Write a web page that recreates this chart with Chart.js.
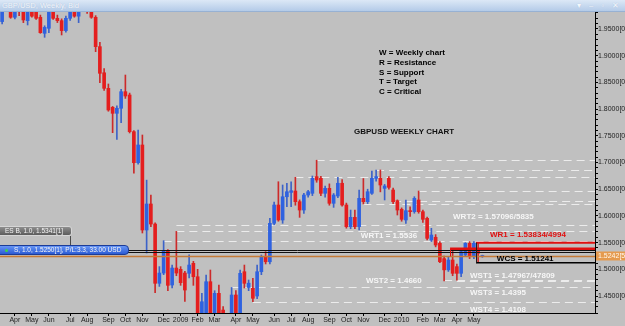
<!DOCTYPE html>
<html>
<head>
<meta charset="utf-8">
<script src="https://cdn.jsdelivr.net/npm/chart.js@4.4.1/dist/chart.umd.min.js"></script>
<style>
html, body { margin: 0; padding: 0; background: #c0c0c0; }
#wrap { position: relative; width: 625px; height: 326px; overflow: hidden; }
canvas { position: absolute; left: 0; top: 0; }
#titlebar { position: absolute; left: 0; top: 0; width: 625px; height: 12px; box-sizing: border-box;
  background: linear-gradient(#dce8f6, #b4cbe8); border-bottom: 1px solid #97b1d3;
  font: 7.5px "Liberation Sans", Arial, sans-serif; color: #f4f7fb; line-height: 11px; padding-left: 2px;
  text-shadow: 0 0 1px #9fb6d6; }
#titlebar .btns { position: absolute; right: 3px; top: 0; letter-spacing: 3px; }
.tradebox { position: absolute; left: -2px; height: 10px; box-sizing: border-box; color: #f4f4f4;
  font: 6.5px "Liberation Sans", Arial, sans-serif; line-height: 8px; white-space: nowrap; }
#esb { top: 226px; width: 74px; padding-left: 6px; background: linear-gradient(#8e8e8e, #5c5c5c);
  border: 1px solid #d6d6d6; border-radius: 0 3px 3px 0; }
#sell { top: 245px; width: 131px; padding-left: 15px; background: linear-gradient(#6695f6, #2b5bd4);
  border: 1px solid #1c3c98; border-radius: 0 4px 4px 0; }
#sell .dot { position: absolute; left: 6px; top: 2.5px; width: 3px; height: 3px; border-radius: 50%; background: #3fd24a; }
#link { position: absolute; left: 70px; top: 236px; width: 1px; height: 9px; background: #4a4a4a; }
</style>
</head>
<body>
<div id="wrap">
  <canvas id="chart" width="625" height="326"></canvas>
  <div id="titlebar">GBP/USD, Weekly, Bid<span class="btns">▾ ‒ ▫ ✕</span></div>
  <div id="link"></div>
  <div class="tradebox" id="esb">ES B, 1.0, 1.5341[1]</div>
  <div class="tradebox" id="sell"><span class="dot"></span>S, 1.0, 1.5250[1], P/L:3.3, 33.00 USD</div>
</div>
<script>
// weekly GBPUSD candles (values above 1.98 / below 1.42 are off-chart)
const opens = [1.9638, 1.9950, 1.9950, 1.9719, 1.9980, 1.9850, 1.9656, 1.9900, 1.9950, 1.9719,
  1.9419, 1.9513, 1.9900, 1.9700, 1.9656, 1.9469, 1.9700, 1.9950, 1.9740, 1.9900,
  1.9880, 1.9920, 1.9719, 1.9169, 1.8680, 1.8389, 1.8033, 1.7921, 1.8015, 1.8326,
  1.8264, 1.7577, 1.6996, 1.7328, 1.5736, 1.6223, 1.5848, 1.4738, 1.4930, 1.5340,
  1.4706, 1.5024, 1.5000, 1.4930, 1.4925, 1.5112, 1.4861, 1.3900, 1.4000, 1.4768,
  1.4000, 1.4550, 1.4237, 1.3900, 1.4000, 1.4519, 1.4100, 1.4955, 1.4660, 1.4644,
  1.4500, 1.4955, 1.5236, 1.5142, 1.5861, 1.6204, 1.5923, 1.6359, 1.6440, 1.6466,
  1.6266, 1.6110, 1.6391, 1.6423, 1.6735, 1.6704, 1.6423, 1.6516, 1.6236, 1.6373,
  1.6611, 1.6204, 1.5798, 1.5973, 1.5798, 1.6329, 1.6266, 1.6423, 1.6704, 1.6704,
  1.6516, 1.6704, 1.6485, 1.6285, 1.6124, 1.5923, 1.6098, 1.6079, 1.6298, 1.6079,
  1.5955, 1.5549, 1.5600, 1.5487, 1.5200, 1.4990, 1.5174, 1.5050, 1.4925, 1.5268,
  1.5487, 1.5236, 1.5393, 1.5240];
const highs = [2.0050, 2.0150, 2.0050, 2.0000, 2.0050, 1.9950, 1.9980, 1.9950, 2.0000, 1.9760,
  1.9560, 1.9950, 1.9980, 1.9760, 1.9690, 1.9740, 2.0000, 2.0000, 1.9950, 2.0000,
  1.9950, 1.9960, 1.9750, 1.9250, 1.8760, 1.8470, 1.8050, 1.8060, 1.8370, 1.8638,
  1.8300, 1.7600, 1.7609, 1.7515, 1.6670, 1.6390, 1.5870, 1.5050, 1.5536, 1.5370,
  1.5080, 1.5710, 1.5050, 1.4960, 1.5270, 1.5150, 1.5000, 1.4550, 1.4893, 1.4987,
  1.4600, 1.4706, 1.4300, 1.4140, 1.4660, 1.4600, 1.4987, 1.5080, 1.4800, 1.4831,
  1.5080, 1.5268, 1.5330, 1.5955, 1.6260, 1.6640, 1.6579, 1.6610, 1.6640, 1.6723,
  1.6300, 1.6423, 1.6480, 1.6747, 1.7043, 1.6740, 1.6560, 1.6600, 1.6420, 1.6723,
  1.6680, 1.6240, 1.6110, 1.6110, 1.6485, 1.6700, 1.6500, 1.6840, 1.6860, 1.6860,
  1.6590, 1.6735, 1.6520, 1.6300, 1.6150, 1.6298, 1.6170, 1.6360, 1.6466, 1.6110,
  1.5980, 1.5768, 1.5650, 1.5520, 1.5250, 1.5236, 1.5383, 1.5100, 1.5350, 1.5500,
  1.5520, 1.5520, 1.5499, 1.5265];
const lows = [1.9594, 1.9850, 1.9700, 1.9690, 1.9750, 1.9619, 1.9575, 1.9720, 1.9680, 1.9419,
  1.9344, 1.9431, 1.9680, 1.9620, 1.9388, 1.9440, 1.9660, 1.9720, 1.9619, 1.9840,
  1.9790, 1.9700, 1.9075, 1.8494, 1.8350, 1.7960, 1.7559, 1.7434, 1.7745, 1.8200,
  1.7553, 1.6798, 1.6970, 1.5680, 1.5305, 1.5800, 1.4562, 1.4680, 1.4900, 1.4600,
  1.4650, 1.4880, 1.4700, 1.4400, 1.4840, 1.4700, 1.3600, 1.3500, 1.3800, 1.3900,
  1.3850, 1.3800, 1.3700, 1.3650, 1.3900, 1.4000, 1.4050, 1.4650, 1.4600, 1.4395,
  1.4450, 1.4900, 1.5100, 1.5100, 1.5830, 1.5900, 1.5861, 1.6172, 1.6172, 1.6200,
  1.5973, 1.6047, 1.6350, 1.6380, 1.6630, 1.6380, 1.6350, 1.6200, 1.6160, 1.6340,
  1.6180, 1.5770, 1.5760, 1.5760, 1.5736, 1.6223, 1.6230, 1.6400, 1.6650, 1.6450,
  1.6298, 1.6500, 1.6230, 1.6017, 1.5900, 1.5861, 1.5990, 1.6050, 1.6050, 1.5880,
  1.5550, 1.5520, 1.5420, 1.5124, 1.4781, 1.4960, 1.4880, 1.4797, 1.4861, 1.5240,
  1.5200, 1.5200, 1.5124, 1.5225];
const closes = [1.9950, 2.0000, 1.9719, 1.9950, 1.9840, 1.9669, 1.9900, 1.9740, 1.9700, 1.9431,
  1.9530, 1.9900, 1.9700, 1.9656, 1.9469, 1.9700, 1.9950, 1.9740, 1.9900, 1.9880,
  1.9830, 1.9719, 1.9169, 1.8670, 1.8389, 1.7983, 1.7921, 1.8015, 1.8326, 1.8245,
  1.7577, 1.6996, 1.7328, 1.5736, 1.6223, 1.5848, 1.4738, 1.4930, 1.5340, 1.4700,
  1.5024, 1.4930, 1.4750, 1.4612, 1.5080, 1.4861, 1.3900, 1.4393, 1.4768, 1.4000,
  1.4550, 1.4000, 1.3800, 1.4000, 1.4519, 1.4100, 1.4925, 1.4738, 1.4740, 1.4457,
  1.4955, 1.5236, 1.5142, 1.5861, 1.6204, 1.5923, 1.6359, 1.6453, 1.6472, 1.6266,
  1.6110, 1.6391, 1.6453, 1.6704, 1.6672, 1.6423, 1.6516, 1.6236, 1.6391, 1.6611,
  1.6204, 1.5798, 1.5973, 1.5798, 1.6329, 1.6266, 1.6453, 1.6704, 1.6735, 1.6579,
  1.6560, 1.6535, 1.6266, 1.6110, 1.5936, 1.6098, 1.6080, 1.6329, 1.6079, 1.5936,
  1.5580, 1.5642, 1.5455, 1.5142, 1.4990, 1.5174, 1.4925, 1.4925, 1.5330, 1.5487,
  1.5236, 1.5487, 1.5300, 1.5250];

// x axis: one slot per week, month name on the first week of each month
const monthNames = ['Jan', 'Feb', 'Mar', 'Apr', 'May', 'Jun', 'Jul', 'Aug', 'Sep', 'Oct', 'Nov', 'Dec'];
const firstWeek = new Date(2008, 2, 16);
const weekSlots = 140;
const weekLabels = [];
for (let i = 0; i < weekSlots; i++) {
    const d = new Date(firstWeek.getFullYear(), firstWeek.getMonth(), firstWeek.getDate() + 7 * i);
    let t = '';
    if (i < opens.length && d.getDate() <= 7) t = d.getMonth() === 0 ? String(d.getFullYear()) : monthNames[d.getMonth()];
    weekLabels.push(t);
}

// dashed support / resistance levels and the week they start from
const levelPrices = [1.7043, 1.6860, 1.6723, 1.6466, 1.6285, 1.6223, 1.5835, 1.57096, 1.5536, 1.47967, 1.47809, 1.4660, 1.4395];
const levelStarts = [74, 88, 69, 98, 92, 85, 41, 41, 38, 104, 107, 54, 59];

// order lines across the whole chart
const orderPrices = [1.5358, 1.5324, 1.5245];
const orderColors = ['#111111', '#111111', '#c47a36'];
const orderWidths = [1, 1, 1.5];

// WR1 / WCS marker lines (price, start week, colour, width)
const markPrices = [1.53834, 1.54994, 1.51241];
const markStarts = [105.4, 111.5, 111.5];
const markColors = ['#e01010', '#e01010', '#000000'];
const markWidths = [2.5, 2, 1.5];

const bidPrice = 1.5242;

// text objects: text, week, price, colour
const notes = [
    ['W = Weekly chart', 88.7, 1.9056, '#000'],
    ['R = Resistance', 88.7, 1.8869, '#000'],
    ['S = Support', 88.7, 1.8682, '#000'],
    ['T = Target', 88.7, 1.8502, '#000'],
    ['C = Critical', 88.7, 1.8315, '#000'],
    ['GBPUSD WEEKLY CHART', 82.8, 1.7577, '#111'],
    ['WRT2 = 1.57096/5835', 106.1, 1.5974, '#f6f6f6'],
    ['WRT1 = 1.5536', 84.4, 1.5624, '#f6f6f6'],
    ['WR1 = 1.53834/4994', 114.8, 1.5642, '#e01010'],
    ['WCS = 1.51241', 116.4, 1.5206, '#000'],
    ['WST1 = 1.47967/47809', 110.1, 1.4880, '#f6f6f6'],
    ['WST2 = 1.4660', 85.6, 1.4787, '#f6f6f6'],
    ['WST3 = 1.4395', 110.1, 1.4551, '#f6f6f6'],
    ['WST4 = 1.4108', 110.1, 1.4235, '#f6f6f6']
];

const bull = '#2f62e0', bear = '#e41e1e';
const bodyColors = opens.map((o, i) => closes[i] >= o ? bull : bear);
const wickColors = opens.map((o, i) => closes[i] >= o ? '#3c62c8' : '#cc2a2a');

const overlay = {
    id: 'overlay',
    beforeDraw(chart) {
        const c = chart.ctx;
        c.save();
        c.fillStyle = '#c0c0c0';
        c.fillRect(0, 0, chart.width, chart.height);
        c.restore();
    },
    beforeDatasetsDraw(chart) {
        const c = chart.ctx, a = chart.chartArea, x = chart.scales.x, y = chart.scales.y;
        c.save();
        c.beginPath(); c.rect(a.left, a.top, a.right - a.left, a.bottom - a.top); c.clip();
        c.strokeStyle = '#ececec';
        c.lineWidth = 1;
        c.setLineDash([8, 5]);
        levelPrices.forEach((p, i) => {
            const py = Math.round(y.getPixelForValue(p)) + 0.5;
            c.beginPath();
            c.moveTo(x.getPixelForValue(levelStarts[i]), py);
            c.lineTo(a.right, py);
            c.stroke();
        });
        c.restore();
    },
    afterDatasetsDraw(chart) {
        const c = chart.ctx, a = chart.chartArea, x = chart.scales.x, y = chart.scales.y;
        c.save();
        c.beginPath(); c.rect(a.left, a.top, a.right - a.left, a.bottom - a.top); c.clip();
        orderPrices.forEach((p, i) => {
            const py = Math.round(y.getPixelForValue(p)) + 0.5;
            c.strokeStyle = orderColors[i]; c.lineWidth = orderWidths[i];
            c.beginPath(); c.moveTo(a.left, py); c.lineTo(a.right, py); c.stroke();
        });
        markPrices.forEach((p, i) => {
            const py = y.getPixelForValue(p);
            c.strokeStyle = markColors[i]; c.lineWidth = markWidths[i];
            c.beginPath(); c.moveTo(x.getPixelForValue(markStarts[i]), py); c.lineTo(a.right, py); c.stroke();
        });
        // small vertical joins at the start of the marker lines
        c.lineWidth = 1;
        c.strokeStyle = '#e01010';
        let vx = Math.round(x.getPixelForValue(markStarts[0])) + 0.5;
        c.beginPath(); c.moveTo(vx, y.getPixelForValue(markPrices[0])); c.lineTo(vx, y.getPixelForValue(orderPrices[2])); c.stroke();
        c.strokeStyle = '#202020';
        vx = Math.round(x.getPixelForValue(markStarts[1])) + 0.5;
        c.beginPath(); c.moveTo(vx, y.getPixelForValue(markPrices[1])); c.lineTo(vx, y.getPixelForValue(markPrices[2])); c.stroke();

        c.font = 'bold 8px "Liberation Sans", Arial, sans-serif';
        c.textBaseline = 'middle';
        c.textAlign = 'left';
        notes.forEach(n => {
            c.fillStyle = n[3];
            c.fillText(n[0], x.getPixelForValue(n[1]), y.getPixelForValue(n[2]));
        });
        c.restore();
    },
    afterDraw(chart) {
        const c = chart.ctx, a = chart.chartArea, y = chart.scales.y;
        const py = y.getPixelForValue(bidPrice);
        c.save();
        c.fillStyle = '#e59a4e';
        c.fillRect(a.right + 1, Math.round(py) - 4.5, chart.width - a.right, 9);
        c.fillStyle = '#fff8ee';
        c.font = '7px "Liberation Sans", Arial, sans-serif';
        c.textBaseline = 'middle';
        c.fillText(bidPrice.toFixed(4) + '[5]', a.right + 3, Math.round(py));
        c.restore();
    }
};

new Chart(document.getElementById('chart').getContext('2d'), {
    type: 'bar',
    data: {
        labels: weekLabels,
        datasets: [
            {
                label: 'body',
                data: opens.map((o, i) => [o, closes[i]]),
                backgroundColor: bodyColors,
                barThickness: 3,
                minBarLength: 1,
                grouped: false,
                order: 1
            },
            {
                label: 'wick',
                data: lows.map((l, i) => [l, highs[i]]),
                backgroundColor: wickColors,
                barThickness: 1,
                grouped: false,
                order: 2
            }
        ]
    },
    options: {
        responsive: false,
        animation: false,
        layout: { padding: { top: 12, left: 0, right: 0, bottom: 0 } },
        plugins: { legend: { display: false }, tooltip: { enabled: false } },
        scales: {
            x: {
                afterFit: s => { s.height = 13; },
                grid: {
                    offset: false,
                    drawOnChartArea: false,
                    tickLength: 3,
                    color: ctx => weekLabels[ctx.index] ? '#000' : 'rgba(0,0,0,0)'
                },
                border: { color: '#000', width: 1 },
                ticks: {
                    autoSkip: false,
                    maxRotation: 0,
                    minRotation: 0,
                    padding: 0,
                    color: '#222',
                    font: { family: '"Liberation Sans", Arial, sans-serif', size: 7 },
                    callback: (v, i) => weekLabels[i]
                }
            },
            y: {
                position: 'right',
                min: 1.4182,
                max: 1.9818,
                afterFit: s => { s.width = 30; },
                grid: { drawOnChartArea: false, tickLength: 3, color: '#000' },
                border: { color: '#000', width: 1 },
                ticks: {
                    stepSize: 0.01,
                    autoSkip: false,
                    padding: 0,
                    color: '#222',
                    font: { family: '"Liberation Sans", Arial, sans-serif', size: 7 },
                    callback: v => {
                        const k = v * 20;
                        return Math.abs(k - Math.round(k)) < 1e-6 ? v.toFixed(4) + '[0]' : '';
                    }
                }
            }
        }
    },
    plugins: [overlay]
});
</script>
</body>
</html>
